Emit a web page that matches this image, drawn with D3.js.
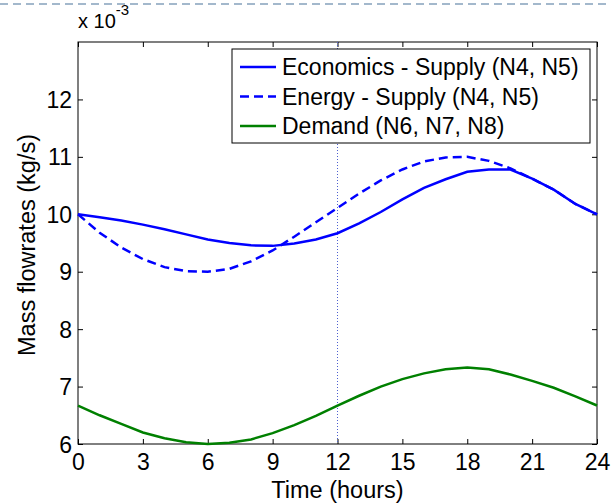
<!DOCTYPE html>
<html>
<head>
<meta charset="utf-8">
<script src="https://cdn.jsdelivr.net/npm/d3@7"></script>
<style>
    body { margin: 0; background: #fff; }
    text { font-family: "Liberation Sans", Arial, sans-serif; fill: #000; }
</style>
</head>
<body>
<svg width="611" height="504"></svg>
<script>
// time in hours
let hours = [0, 1, 2, 3, 4, 5, 6, 7, 8, 9, 10, 11, 12, 13, 14, 15, 16, 17, 18, 19, 20, 21, 22, 23, 24];

// mass flowrates, in units of 1e-3 kg/s
let economicsSupply = [10.00, 9.95, 9.89, 9.82, 9.74, 9.65, 9.56, 9.50, 9.46, 9.45, 9.49, 9.56, 9.67,
    9.84, 10.04, 10.26, 10.46, 10.61, 10.74, 10.78, 10.78, 10.62, 10.43, 10.18, 10.00];
let energySupply = [10.00, 9.68, 9.42, 9.22, 9.08, 9.01, 9.00, 9.05, 9.18, 9.37, 9.61, 9.86, 10.11,
    10.36, 10.59, 10.78, 10.92, 10.99, 11.00, 10.93, 10.80, 10.62, 10.43, 10.18, 10.00];
let demand = [6.67, 6.50, 6.35, 6.20, 6.10, 6.03, 6.00, 6.02, 6.08, 6.19, 6.33, 6.49, 6.67,
    6.84, 7.00, 7.13, 7.23, 7.30, 7.33, 7.30, 7.21, 7.10, 6.98, 6.83, 6.67];

let xTicks = [0, 3, 6, 9, 12, 15, 18, 21, 24];
let yTicks = [6, 7, 8, 9, 10, 11, 12];
let seriesNames = ["Economics - Supply (N4, N5)", "Energy - Supply (N4, N5)", "Demand (N6, N7, N8)"];
let markerHour = 12;

let svg = d3.select("svg");
let plotLeft = 78, plotRight = 597, plotTop = 42, plotBottom = 444;

let x = d3.scaleLinear().domain([0, 24]).range([plotLeft, plotRight]);
let y = d3.scaleLinear().domain([6, 13]).range([plotBottom, plotTop]);

// dashed page border at the top
svg.append("line")
    .attr("x1", 0).attr("x2", 611)
    .attr("y1", 4).attr("y2", 4)
    .attr("stroke", "#a3b8cc")
    .attr("stroke-width", 2)
    .attr("stroke-dasharray", "8,5");

// axes, ticks pointing inward on all four sides
let fontSize = 23;
let bottomAxis = d3.axisBottom(x).tickValues(xTicks).tickSizeInner(-5).tickSizeOuter(0).tickPadding(10);
let topAxis = d3.axisTop(x).tickValues(xTicks).tickSizeInner(-5).tickSizeOuter(0).tickFormat("");
let leftAxis = d3.axisLeft(y).tickValues(yTicks).tickSizeInner(-5).tickSizeOuter(0).tickPadding(6)
    .tickFormat(d3.format("d"));
let rightAxis = d3.axisRight(y).tickValues(yTicks).tickSizeInner(-5).tickSizeOuter(0).tickFormat("");

let gb = svg.append("g").attr("transform", "translate(0," + plotBottom + ")").call(bottomAxis);
let gt = svg.append("g").attr("transform", "translate(0," + plotTop + ")").call(topAxis);
let gl = svg.append("g").attr("transform", "translate(" + plotLeft + ",0)").call(leftAxis);
let gr = svg.append("g").attr("transform", "translate(" + plotRight + ",0)").call(rightAxis);

[gb, gt, gl, gr].forEach(function (g) {
    g.select(".domain").remove();
    g.selectAll("line").attr("stroke", "#000");
    g.selectAll("text")
        .style("font-size", fontSize + "px")
        .style("font-family", "Liberation Sans, Arial, sans-serif");
});
gl.selectAll("text").attr("dy", "0.35em");

// plot box
svg.append("rect")
    .attr("x", plotLeft).attr("y", plotTop)
    .attr("width", plotRight - plotLeft).attr("height", plotBottom - plotTop)
    .attr("fill", "none")
    .attr("stroke", "#000")
    .attr("stroke-width", 1);

// vertical dotted marker
svg.append("line")
    .attr("x1", x(markerHour)).attr("x2", x(markerHour))
    .attr("y1", y(13)).attr("y2", y(6))
    .attr("stroke", "#4d5fd0")
    .attr("stroke-width", 1)
    .attr("stroke-dasharray", "1,2");

let line = d3.line()
    .x(function (d, i) { return x(hours[i]); })
    .y(function (d) { return y(d); });

let series = [
    {name: seriesNames[0], values: economicsSupply, color: "#0000ff", dash: null},
    {name: seriesNames[1], values: energySupply, color: "#0000ff", dash: "9,5"},
    {name: seriesNames[2], values: demand, color: "#008000", dash: null}
];

svg.selectAll(".series")
    .data(series)
    .enter()
    .append("path")
    .attr("class", "series")
    .attr("d", function (d) { return line(d.values); })
    .attr("fill", "none")
    .attr("stroke", function (d) { return d.color; })
    .attr("stroke-width", 2.5)
    .attr("stroke-dasharray", function (d) { return d.dash; });

// legend
let legendLeft = 232, legendTop = 49, legendRight = 590, legendBottom = 143;
let legend = svg.append("g");
legend.append("rect")
    .attr("x", legendLeft).attr("y", legendTop)
    .attr("width", legendRight - legendLeft).attr("height", legendBottom - legendTop)
    .attr("fill", "#fff")
    .attr("stroke", "#000");

let rows = legend.selectAll(".row")
    .data(series)
    .enter()
    .append("g")
    .attr("class", "row")
    .attr("transform", function (d, i) { return "translate(0," + (legendTop + 26 + i * 29.5) + ")"; });

rows.append("line")
    .attr("x1", legendLeft + 8).attr("x2", legendLeft + 44)
    .attr("y1", -8).attr("y2", -8)
    .attr("stroke", function (d) { return d.color; })
    .attr("stroke-width", 2.5)
    .attr("stroke-dasharray", function (d) { return d.dash; });

rows.append("text")
    .attr("x", 282)
    .style("font-size", fontSize + "px")
    .text(function (d) { return d.name; });

// exponent label
let expo = svg.append("text")
    .attr("x", plotLeft)
    .attr("y", 28)
    .style("font-size", "20px");
expo.append("tspan").text("x 10");
expo.append("tspan").attr("dy", -13).style("font-size", "15px").text("-3");

// axis titles
svg.append("text")
    .attr("x", (plotLeft + plotRight) / 2)
    .attr("y", 498)
    .attr("text-anchor", "middle")
    .style("font-size", "23.5px")
    .text("Time (hours)");

svg.append("text")
    .attr("transform", "translate(35,245) rotate(-90)")
    .attr("text-anchor", "middle")
    .style("font-size", "23.5px")
    .text("Mass flowrates (kg/s)");
</script>
</body>
</html>
